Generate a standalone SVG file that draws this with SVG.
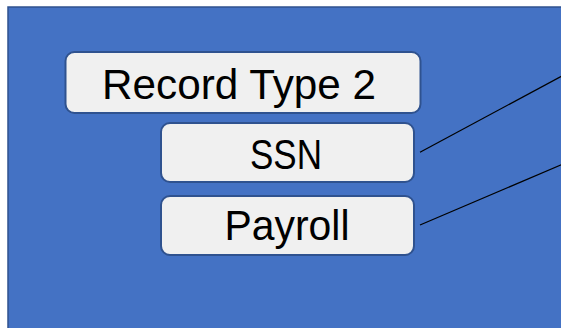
<svg xmlns="http://www.w3.org/2000/svg" width="561" height="328" viewBox="0 0 561 328">
<style>
.box{fill:#f0f0f0;stroke:#2f528f;stroke-width:2}
.lbl{font-family:"Liberation Sans",Arial,sans-serif;font-size:43px;fill:#000;text-anchor:middle}
.conn{stroke:#000;stroke-width:1.2;fill:none}
</style>
<rect x="0" y="0" width="561" height="328" fill="#ffffff"/>
<rect x="8" y="7" width="560" height="330" fill="#4472c4" stroke="#2f528f" stroke-width="1.5"/>
<g id="record-type-2">
<rect class="box" x="65.5" y="52" width="355" height="61" rx="9"/>
<text class="lbl" x="239" y="99" textLength="274" lengthAdjust="spacingAndGlyphs">Record Type 2</text>
</g>
<g id="ssn">
<rect class="box" x="161" y="123" width="253" height="59" rx="9"/>
<text class="lbl" x="286" y="169" textLength="72" lengthAdjust="spacingAndGlyphs">SSN</text>
</g>
<g id="payroll">
<rect class="box" x="161" y="196" width="253" height="59" rx="9"/>
<text class="lbl" x="287" y="240" textLength="125" lengthAdjust="spacingAndGlyphs">Payroll</text>
</g>
<g id="connectors">
<line class="conn" x1="420" y1="152.3" x2="562" y2="76"/>
<line class="conn" x1="420" y1="225" x2="562" y2="164.5"/>
</g>
</svg>
